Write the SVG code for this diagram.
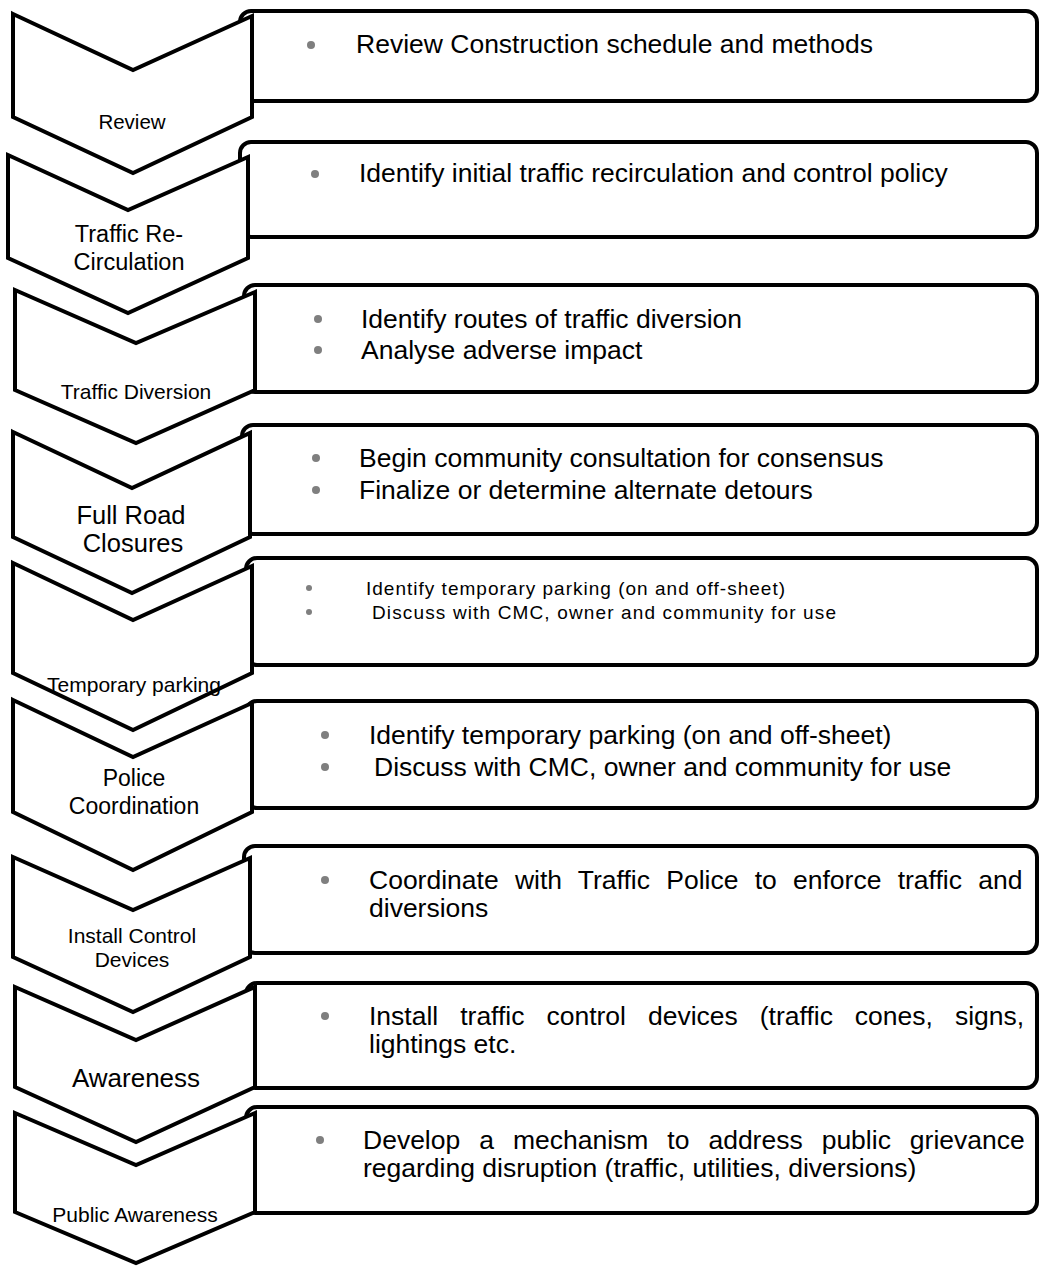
<svg xmlns="http://www.w3.org/2000/svg" width="1040" height="1267" viewBox="0 0 1040 1267">
<style>
.box{fill:#fff;stroke:#000;stroke-width:4}
.chev{fill:#fff;stroke:#000;stroke-width:4;stroke-linejoin:miter}
.t{font-family:"Liberation Sans",Arial,sans-serif;fill:#000}
.lbl{font-family:"Liberation Sans",Arial,sans-serif;fill:#000;text-anchor:middle}
.b{fill:#7f7f7f}
</style>
<rect width="1040" height="1267" fill="#fff"/>
<g id="boxes">
<g id="box1"><rect class="box" x="240" y="11" width="797" height="90" rx="11"/><circle class="b" cx="311" cy="45" r="4"/><text class="t" x="356" y="53" font-size="26.5">Review Construction schedule and methods</text></g>
<g id="box2"><rect class="box" x="240" y="142" width="797" height="95" rx="11"/><circle class="b" cx="315" cy="174" r="4"/><text class="t" x="359" y="182" font-size="26.5">Identify initial traffic recirculation and control policy</text></g>
<g id="box3"><rect class="box" x="244" y="285" width="793" height="107" rx="11"/><circle class="b" cx="318" cy="319" r="4"/><circle class="b" cx="318" cy="350" r="4"/><text class="t" x="361" y="327.5" font-size="26.5">Identify routes of traffic diversion</text><text class="t" x="361" y="358.5" font-size="26.5">Analyse adverse impact</text></g>
<g id="box4"><rect class="box" x="242" y="425" width="795" height="109" rx="11"/><circle class="b" cx="316" cy="458" r="4"/><circle class="b" cx="316" cy="490" r="4"/><text class="t" x="359" y="466.5" font-size="26.5">Begin community consultation for consensus</text><text class="t" x="359" y="498.5" font-size="26.5">Finalize or determine alternate detours</text></g>
<g id="box5"><rect class="box" x="246" y="558" width="791" height="107" rx="11"/><circle class="b" cx="309" cy="588" r="3"/><circle class="b" cx="309" cy="612" r="3"/><text class="t" x="366" y="594.5" font-size="19" textLength="419" lengthAdjust="spacing">Identify temporary parking (on and off-sheet)</text><text class="t" x="372" y="618.5" font-size="19" textLength="464" lengthAdjust="spacing">Discuss with CMC, owner and community for use</text></g>
<g id="box6"><rect class="box" x="246" y="701" width="791" height="107" rx="11"/><circle class="b" cx="325" cy="735" r="4"/><circle class="b" cx="325" cy="767" r="4"/><text class="t" x="369" y="743.5" font-size="26.5">Identify temporary parking (on and off-sheet)</text><text class="t" x="374" y="775.5" font-size="26.5">Discuss with CMC, owner and community for use</text></g>
<g id="box7"><rect class="box" x="244" y="846" width="793" height="107" rx="11"/><circle class="b" cx="325" cy="880" r="4"/><text class="t" x="369" y="888.5" font-size="26.5" word-spacing="8.9">Coordinate with Traffic Police to enforce traffic and</text><text class="t" x="369" y="917" font-size="26.5">diversions</text></g>
<g id="box8"><rect class="box" x="246" y="983" width="791" height="105" rx="11"/><circle class="b" cx="325" cy="1016" r="4"/><text class="t" x="369" y="1024.5" font-size="26.5" word-spacing="14.6">Install traffic control devices (traffic cones, signs,</text><text class="t" x="369" y="1053" font-size="26.5">lightings etc.</text></g>
<g id="box9"><rect class="box" x="246" y="1107" width="791" height="106" rx="11"/><circle class="b" cx="320" cy="1140" r="4"/><text class="t" x="363" y="1148.5" font-size="26.5" word-spacing="11.6">Develop a mechanism to address public grievance</text><text class="t" x="363" y="1177" font-size="26.5">regarding disruption (traffic, utilities, diversions)</text></g>
</g>
<g id="chevrons">
<g id="step1"><path class="chev" d="M13,14 L133,70 L252,16 L252,117 L133,173 L13,117 Z"/><text class="lbl" x="132" y="129" font-size="20.5">Review</text></g>
<g id="step2"><path class="chev" d="M8,155 L128,210 L248,157 L248,258 L128,313 L8,258 Z"/><text class="lbl" x="129" y="242" font-size="23.5">Traffic Re-</text><text class="lbl" x="129" y="270" font-size="23.5">Circulation</text></g>
<g id="step3"><path class="chev" d="M15,290 L136,343 L255,292 L255,390 L136,443 L15,390 Z"/><text class="lbl" x="136" y="399" font-size="21">Traffic Diversion</text></g>
<g id="step4"><path class="chev" d="M13,432 L132,488 L250,433 L250,537 L132,593 L13,537 Z"/><text class="lbl" x="131" y="524" font-size="25.5">Full Road</text><text class="lbl" x="133" y="552" font-size="25.5">Closures</text></g>
<g id="step5"><path class="chev" d="M13,563 L133,620 L252,566 L252,673 L133,730 L13,673 Z"/><text class="lbl" x="134" y="692" font-size="21">Temporary parking</text></g>
<g id="step6"><path class="chev" d="M13,700 L133,757 L252,703 L252,812 L133,870 L13,812 Z"/><text class="lbl" x="134" y="786" font-size="23">Police</text><text class="lbl" x="134" y="814" font-size="23">Coordination</text></g>
<g id="step7"><path class="chev" d="M13,857 L133,910 L250,858 L250,957 L133,1012 L13,957 Z"/><text class="lbl" x="132" y="943" font-size="21">Install Control</text><text class="lbl" x="132" y="967" font-size="21">Devices</text></g>
<g id="step8"><path class="chev" d="M15,987 L136,1040 L255,987 L255,1087 L136,1142 L15,1087 Z"/><text class="lbl" x="136" y="1087" font-size="26">Awareness</text></g>
<g id="step9"><path class="chev" d="M15,1113 L136,1165 L255,1113 L255,1212 L136,1263 L15,1212 Z"/><text class="lbl" x="135" y="1222" font-size="21">Public Awareness</text></g>
</g>
</svg>
